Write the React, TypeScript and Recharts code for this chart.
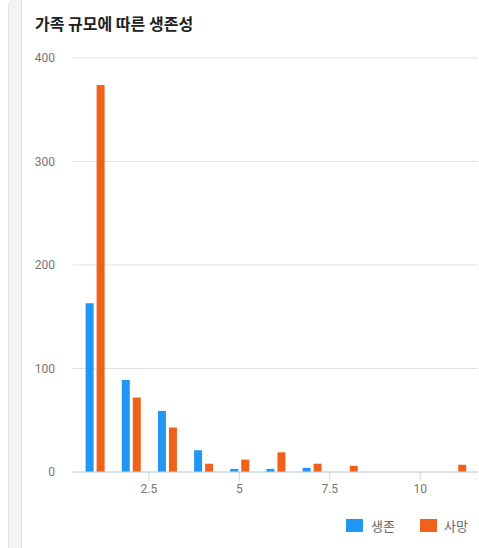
import { BarChart, Bar, XAxis, YAxis, CartesianGrid } from "recharts";

const familySizes = [1, 2, 3, 4, 5, 6, 7, 8, 11];
const survived = [163, 89, 59, 21, 3, 3, 4, 0, 0];
const died = [374, 72, 43, 8, 12, 19, 8, 6, 7];
const xTicks = [2.5, 5, 7.5, 10];
const yTicks = [0, 100, 200, 300, 400];

const BLUE = "#2196F3";
const ORANGE = "#F0621A";
const KR = '"Noto Sans CJK KR", "Noto Sans", sans-serif';

const data = familySizes.map((size, i) => ({
  size,
  survived: survived[i],
  died: died[i],
}));

const tickStyle = { fontSize: 12, fontFamily: "Roboto, sans-serif", fill: "#757575" };

export default function App() {
  return (
    <div
      style={{
        position: "fixed",
        left: 0,
        top: 0,
        width: 479,
        height: 548,
        background: "#fff",
        overflow: "hidden",
      }}
    >
      {/* grey strip on the card's left */}
      <div
        style={{
          position: "absolute",
          left: 8,
          top: 0,
          width: 12,
          height: 548,
          background: "#f3f3f3",
          borderLeft: "1px solid #e2e2e2",
          borderRight: "1px solid #e2e2e2",
          borderTopLeftRadius: 6,
        }}
      />
      <div
        style={{
          position: "absolute",
          left: 35,
          top: 11,
          fontFamily: KR,
          fontWeight: 700,
          fontSize: 16,
          color: "#212121",
          whiteSpace: "nowrap",
        }}
      >
        가족 규모에 따른 생존성
      </div>
      <div style={{ position: "absolute", left: 0, top: 0 }}>
        <BarChart
          width={479}
          height={548}
          data={data}
          margin={{ top: 58, right: 1, bottom: 46, left: 0 }}
          barSize={8}
          barGap={3}
        >
          <CartesianGrid stroke="#e0e0e0" vertical={false} />
          <XAxis
            dataKey="size"
            type="number"
            domain={[0.4, 11.6]}
            ticks={xTicks}
            allowDataOverflow
            height={30}
            tick={tickStyle}
            axisLine={{ stroke: "#c8d4e2" }}
            tickLine={{ stroke: "#c8d4e2" }}
            tickSize={9}
            tickMargin={3}
          />
          <YAxis
            domain={[0, 400]}
            ticks={yTicks}
            width={73}
            tick={tickStyle}
            axisLine={false}
            tickLine={false}
            tickSize={6}
            tickMargin={12}
          />
          <Bar dataKey="survived" name="생존" fill={BLUE} isAnimationActive={false} />
          <Bar dataKey="died" name="사망" fill={ORANGE} isAnimationActive={false} />
        </BarChart>
      </div>
      {/* legend */}
      <div
        style={{
          position: "absolute",
          left: 346,
          top: 516,
          display: "flex",
          alignItems: "center",
          fontFamily: KR,
          fontSize: 13,
          color: "#666",
        }}
      >
        <span style={{ width: 17, height: 13, background: BLUE, display: "inline-block" }} />
        <span style={{ marginLeft: 8 }}>생존</span>
        <span
          style={{ width: 17, height: 13, background: ORANGE, display: "inline-block", marginLeft: 25 }}
        />
        <span style={{ marginLeft: 7 }}>사망</span>
      </div>
    </div>
  );
}
